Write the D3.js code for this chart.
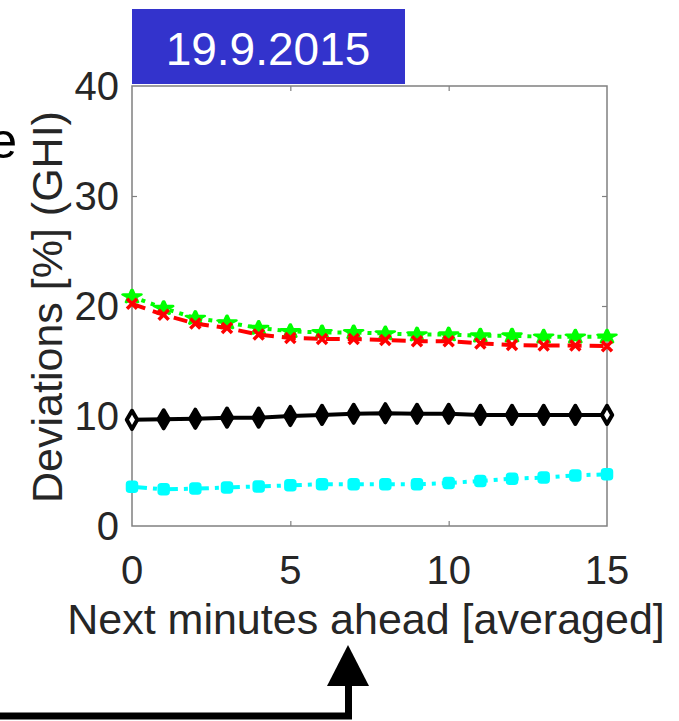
<!DOCTYPE html>
<html>
<head>
<meta charset="utf-8">
<script src="https://cdn.jsdelivr.net/npm/d3@7"></script>
<style>
  body { margin: 0; background: #fff; }
  svg { display: block; font-family: "Liberation Sans", Arial, Helvetica, sans-serif; }
</style>
</head>
<body>
<div id="chart"></div>
<script>
// chart data
const minutes = [0, 1, 2, 3, 4, 5, 6, 7, 8, 9, 10, 11, 12, 13, 14, 15];
const greenSeries = [20.85, 19.8, 18.9, 18.5, 18.0, 17.7, 17.6, 17.6, 17.5, 17.4, 17.4, 17.3, 17.3, 17.2, 17.2, 17.2];
const redSeries = [20.2, 19.2, 18.4, 18.0, 17.4, 17.1, 17.0, 17.0, 16.9, 16.8, 16.8, 16.6, 16.45, 16.4, 16.4, 16.35];
const blackSeries = [9.65, 9.7, 9.75, 9.85, 9.85, 10.0, 10.1, 10.2, 10.25, 10.2, 10.2, 10.1, 10.1, 10.1, 10.1, 10.1];
const cyanSeries = [3.57, 3.33, 3.4, 3.5, 3.6, 3.7, 3.8, 3.8, 3.8, 3.8, 3.9, 4.1, 4.3, 4.4, 4.6, 4.7];
const xTicks = [0, 5, 10, 15];
const yTicks = [0, 10, 20, 30, 40];
const dateLabel = '19.9.2015';
const xLabel = 'Next minutes ahead [averaged]';
const yLabel = 'Deviations [%] (GHI)';

const W = 679, H = 721;
const plot = { left: 132, right: 607, top: 86, bottom: 526 };

const svg = d3.select('#chart')
  .append('svg')
  .attr('width', W)
  .attr('height', H);

const x = d3.scaleLinear().domain([0, 15]).range([plot.left, plot.right]);
const y = d3.scaleLinear().domain([0, 40]).range([plot.bottom, plot.top]);

// date banner
svg.append('rect')
  .attr('x', 132).attr('y', 9)
  .attr('width', 273).attr('height', 75)
  .attr('fill', '#3333cc');
svg.append('text')
  .attr('x', 268).attr('y', 65)
  .attr('text-anchor', 'middle')
  .attr('fill', '#fff')
  .style('font-size', '46px')
  .text(dateLabel);

// letter of the neighbouring panel's title, cut by the left edge
svg.append('text')
  .attr('x', 17).attr('y', 158)
  .attr('text-anchor', 'end')
  .attr('fill', '#000')
  .style('font-size', '50px')
  .text('e');

// axes with inward ticks
const axisColor = '#808080';
const tickSize = 5;

const addAxis = (axis, tx, ty) => {
  const g = svg.append('g')
    .attr('transform', 'translate(' + tx + ',' + ty + ')')
    .call(axis);
  g.select('.domain').remove();
  g.selectAll('.tick line').attr('stroke', axisColor).attr('stroke-width', 1.2);
  return g;
};

const innerX = xTicks.filter(d => d > 0 && d < 15);
const innerY = yTicks.filter(d => d > 0 && d < 40);

addAxis(d3.axisBottom(x).tickValues(innerX).tickSize(-tickSize).tickFormat(''), 0, plot.bottom);
addAxis(d3.axisTop(x).tickValues(innerX).tickSize(-tickSize).tickFormat(''), 0, plot.top);
addAxis(d3.axisLeft(y).tickValues(innerY).tickSize(-tickSize).tickFormat(''), plot.left, 0);
addAxis(d3.axisRight(y).tickValues(innerY).tickSize(-tickSize).tickFormat(''), plot.right, 0);

svg.append('rect')
  .attr('x', plot.left).attr('y', plot.top)
  .attr('width', plot.right - plot.left)
  .attr('height', plot.bottom - plot.top)
  .attr('fill', 'none')
  .attr('stroke', axisColor)
  .attr('stroke-width', 1.5);

// tick labels
svg.append('g')
  .selectAll('text')
  .data(xTicks)
  .enter()
  .append('text')
  .attr('x', d => x(d))
  .attr('y', 584)
  .attr('text-anchor', 'middle')
  .attr('fill', '#262626')
  .style('font-size', '40px')
  .text(d => d);

svg.append('g')
  .selectAll('text')
  .data(yTicks)
  .enter()
  .append('text')
  .attr('x', 119)
  .attr('y', d => y(d) + 14)
  .attr('text-anchor', 'end')
  .attr('fill', '#262626')
  .style('font-size', '40px')
  .text(d => d);

// axis labels
svg.append('text')
  .attr('x', 366)
  .attr('y', 634)
  .attr('text-anchor', 'middle')
  .attr('fill', '#262626')
  .style('font-size', '43px')
  .text(xLabel);

svg.append('text')
  .attr('transform', 'translate(62,307) rotate(-90)')
  .attr('text-anchor', 'middle')
  .attr('fill', '#262626')
  .style('font-size', '43px')
  .text(yLabel);

// series
const line = d3.line()
  .x((d, i) => x(minutes[i]))
  .y(d => y(d));

const series = [
  { name: 'cyan', values: cyanSeries, color: '#00ffff', dash: '15,6,4,6', marker: 'square' },
  { name: 'black', values: blackSeries, color: '#000000', dash: null, marker: 'hex' },
  { name: 'green', values: greenSeries, color: '#00ff00', dash: '4,6', marker: 'star' },
  { name: 'red', values: redSeries, color: '#ff0000', dash: '14,8', marker: 'cross' },
];

series.forEach(s => {
  const g = svg.append('g').attr('class', 'series-' + s.name);

  g.append('path')
    .attr('d', line(s.values))
    .attr('fill', 'none')
    .attr('stroke', s.color)
    .attr('stroke-width', 4)
    .attr('stroke-dasharray', s.dash);

  const pts = g.selectAll('.pt')
    .data(s.values)
    .enter()
    .append('g')
    .attr('class', 'pt')
    .attr('transform', (d, i) => 'translate(' + x(minutes[i]) + ',' + y(d) + ')');

  if (s.marker === 'square') {
    pts.append('rect')
      .attr('x', -5).attr('y', -5)
      .attr('width', 10).attr('height', 10)
      .attr('rx', 2.5)
      .attr('fill', s.color)
      .attr('stroke', s.color)
      .attr('stroke-width', 2.5);
  }

  if (s.marker === 'hex') {
    pts.append('path')
      .attr('d', d3.symbol().type(d3.symbolDiamond).size(95))
      .attr('fill', (d, i) => (i === 0 || i === s.values.length - 1) ? '#fff' : s.color)
      .attr('stroke', s.color)
      .attr('stroke-width', 4)
      .attr('stroke-linejoin', 'round');
  }

  if (s.marker === 'star') {
    pts.append('path')
      .attr('d', d3.symbol().type(d3.symbolStar).size(70))
      .attr('transform', 'scale(1.2,0.85)')
      .attr('fill', s.color)
      .attr('stroke', s.color)
      .attr('stroke-width', 3)
      .attr('stroke-linejoin', 'round');
  }

  if (s.marker === 'cross') {
    pts.append('path')
      .attr('d', 'M-5,-5L5,5M-5,5L5,-5')
      .attr('stroke', s.color)
      .attr('stroke-width', 3.5)
      .attr('fill', 'none');
  }
});

// arrow at the bottom
svg.append('path')
  .attr('d', 'M0,716H348.5V684')
  .attr('fill', 'none')
  .attr('stroke', '#000')
  .attr('stroke-width', 7)
  .attr('stroke-linejoin', 'miter');
svg.append('path')
  .attr('d', 'M348,645L369,686H327Z')
  .attr('fill', '#000');
</script>
</body>
</html>
